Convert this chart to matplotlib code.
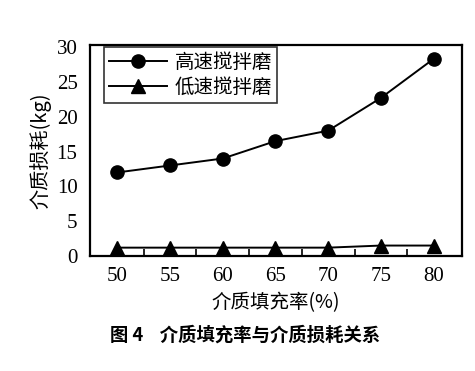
import matplotlib
matplotlib.use("Agg")
import matplotlib.pyplot as plt

fill_rate = [50, 55, 60, 65, 70, 75, 80]
high_speed = [12.0, 13.0, 14.0, 16.5, 18.0, 22.7, 28.3]
low_speed = [1.2, 1.2, 1.2, 1.2, 1.2, 1.5, 1.5]
yticks = [0, 5, 10, 15, 20, 25, 30]
minor_x = [52.5, 57.5, 62.5, 67.5, 72.5, 77.5]

cjk = ['Noto Sans CJK SC', 'DejaVu Sans']
serif = ['Liberation Serif', 'DejaVu Serif']

fig = plt.figure(figsize=(4.75, 3.71), dpi=100)
ax = fig.add_axes([90/475, 1-256/371, (462-90)/475, (256-45)/371])

ax.plot(fill_rate, high_speed, color='black', lw=1.4, marker='o', ms=9.5, label='高速搅拌磨')
ax.plot(fill_rate, low_speed, color='black', lw=1.4, marker='^', ms=9.5, label='低速搅拌磨', clip_on=False)

ax.set_xlim(47.4, 82.7)
ax.set_ylim(0, 30.3)
ax.set_xticks(fill_rate)
ax.set_xticks(minor_x, minor=True)
ax.set_yticks(yticks)
ax.tick_params(axis='x', which='major', length=0, pad=8)
ax.tick_params(axis='x', which='minor', direction='in', length=5, width=1.2)
ax.tick_params(axis='y', which='major', length=0, pad=9)
for lab in ax.get_xticklabels() + ax.get_yticklabels():
    lab.set_family(serif)
    lab.set_fontsize(15)
for s in ax.spines.values():
    s.set_linewidth(1.6)

ax.set_ylabel('介质损耗(kg)', family=cjk, fontsize=14.5, labelpad=4)
ax.set_xlabel('介质填充率(%)', family=cjk, fontsize=14, labelpad=4)

leg = ax.legend(loc='upper left', bbox_to_anchor=(14/372, 0.99),
                prop={'family': cjk, 'size': 14}, frameon=True,
                fancybox=False, edgecolor='black', handlelength=3.0, borderpad=0.25,
                labelspacing=0.2, borderaxespad=0.0, handletextpad=0.4)
leg.get_frame().set_linewidth(1.2)

fig.text(110/475, 1-335/371, '图 4    介质填充率与介质损耗关系', family=cjk, fontsize=13.2,
         fontweight='bold', ha='left', va='center')

fig.savefig('out.png', dpi=100)
